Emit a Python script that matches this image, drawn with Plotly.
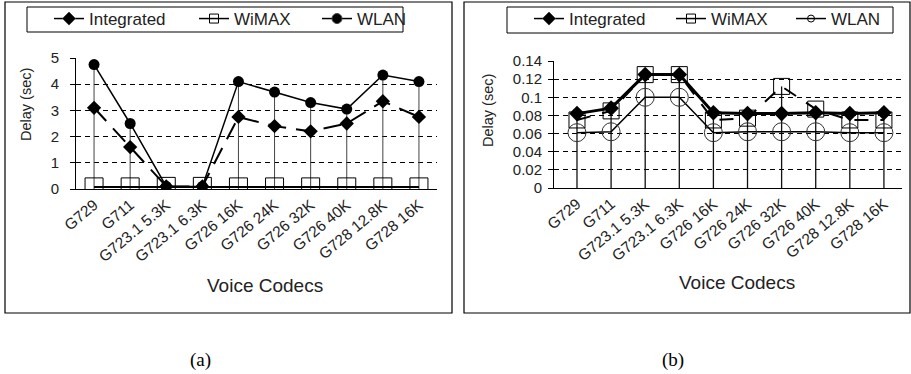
import plotly.graph_objects as go

W, H = 911, 374

categories = ["G729", "G711", "G723.1 5.3K", "G723.1 6.3K", "G726 16K",
              "G726 24K", "G726 32K", "G726 40K", "G728 12.8K", "G728 16K"]
series_names = ["Integrated", "WiMAX", "WLAN"]

# Panel (a)
a_integrated = [3.1, 1.6, 0.1, 0.1, 2.75, 2.4, 2.2, 2.5, 3.35, 2.75]
a_wimax = [0.08, 0.08, 0.1, 0.1, 0.08, 0.08, 0.08, 0.08, 0.08, 0.08]
a_wlan = [4.75, 2.5, 0.1, 0.1, 4.1, 3.7, 3.3, 3.05, 4.35, 4.1]

# Panel (b)
b_integrated = [0.082, 0.088, 0.125, 0.125, 0.083, 0.082, 0.082, 0.083, 0.082, 0.083]
b_wimax = [0.075, 0.085, 0.125, 0.125, 0.075, 0.077, 0.112, 0.087, 0.075, 0.075]
b_wlan = [0.061, 0.062, 0.1, 0.1, 0.061, 0.062, 0.062, 0.062, 0.061, 0.061]

y_ticks_a = [0, 1, 2, 3, 4, 5]
y_ticks_b = [0, 0.02, 0.04, 0.06, 0.08, 0.1, 0.12, 0.14]
y_ticklabels_b = ["0", "0.02", "0.04", "0.06", "0.08", "0.1", "0.12", "0.14"]

FONT = "Arial, 'Liberation Sans', sans-serif"
SERIF = "'Liberation Serif', 'Times New Roman', serif"


def fx(px):
    return px / W


def fy(py):
    return 1 - py / H


def droplines(series_list):
    xs, ys = [], []
    for i, c in enumerate(categories):
        top = max(s[i] for s in series_list)
        xs += [c, c, None]
        ys += [0, top, None]
    return xs, ys


fig = go.Figure()

# ---- panel (a) ----
dx, dy = droplines([a_integrated, a_wimax, a_wlan])
fig.add_trace(go.Scatter(x=dx, y=dy, mode="lines", line=dict(color="#444", width=1),
                         showlegend=False, hoverinfo="skip", xaxis="x", yaxis="y"))
fig.add_trace(go.Scatter(x=categories, y=a_wimax, mode="lines+markers", showlegend=False,
                         line=dict(color="black", width=2),
                         marker=dict(symbol="square-open", size=18, color="black", line=dict(width=1)),
                         xaxis="x", yaxis="y"))
fig.add_trace(go.Scatter(x=categories, y=a_integrated, mode="lines+markers", showlegend=False,
                         line=dict(color="black", width=2, dash="18px,10px"),
                         marker=dict(symbol="diamond", size=11, color="black"),
                         xaxis="x", yaxis="y"))
fig.add_trace(go.Scatter(x=categories, y=a_wlan, mode="lines+markers", showlegend=False,
                         line=dict(color="black", width=1.5),
                         marker=dict(symbol="circle", size=11, color="black"),
                         xaxis="x", yaxis="y"))

# ---- panel (b) ----
dx, dy = droplines([b_integrated, b_wimax, b_wlan])
fig.add_trace(go.Scatter(x=dx, y=dy, mode="lines", line=dict(color="#111", width=1.3),
                         showlegend=False, hoverinfo="skip", xaxis="x2", yaxis="y2"))
fig.add_trace(go.Scatter(x=categories, y=b_wlan, mode="lines+markers", showlegend=False,
                         line=dict(color="black", width=1.5),
                         marker=dict(symbol="circle-open", size=18, color="#333", line=dict(width=1)),
                         xaxis="x2", yaxis="y2"))
fig.add_trace(go.Scatter(x=categories, y=b_wimax, mode="lines+markers", showlegend=False,
                         line=dict(color="black", width=2, dash="14px,12px"),
                         marker=dict(symbol="square-open", size=16, color="black", line=dict(width=1)),
                         xaxis="x2", yaxis="y2"))
fig.add_trace(go.Scatter(x=categories, y=b_integrated, mode="lines+markers", showlegend=False,
                         line=dict(color="black", width=3),
                         marker=dict(symbol="diamond", size=12, color="black"),
                         xaxis="x2", yaxis="y2"))

# ---- legend entries: one legend per item so each can be placed like the original ----
legend_items = [
    # (name, symbol, size, legend id, xaxis, yaxis)
    ("Integrated", "diamond", 10, "legend", "x", "y"),
    ("WiMAX", "square-open", 9, "legend2", "x", "y"),
    ("WLAN", "circle", 10, "legend3", "x", "y"),
    ("Integrated", "diamond", 10, "legend4", "x2", "y2"),
    ("WiMAX", "square-open", 9, "legend5", "x2", "y2"),
    ("WLAN", "circle-open", 7, "legend6", "x2", "y2"),
]
for name, sym, msize, lg, xa, ya in legend_items:
    fig.add_trace(go.Scatter(x=[None], y=[None], mode="lines+markers", name=name,
                             line=dict(color="black", width=1.5),
                             marker=dict(symbol=sym, size=msize, color="black", line=dict(width=1)),
                             legend=lg, xaxis=xa, yaxis=ya, hoverinfo="skip"))

axis_common = dict(showline=True, linecolor="black", linewidth=1, ticks="",
                   tickfont=dict(family=FONT, size=15.5, color="#222"), showgrid=False,
                   zeroline=False, fixedrange=True, automargin=False)
yaxis_common = dict(showline=True, linecolor="black", linewidth=1, ticks="outside",
                    ticklen=5, tickcolor="black",
                    tickfont=dict(family=FONT, size=15, color="#222"), showgrid=True,
                    gridcolor="black", gridwidth=1, griddash="5px,4px", zeroline=False,
                    fixedrange=True, automargin=False)


def legend_at(text_x, text_y=19):
    return dict(orientation="h", bgcolor="rgba(0,0,0,0)", borderwidth=0,
                font=dict(family=FONT, size=17, color="#222"), xanchor="left",
                yanchor="middle", x=fx(text_x - 41), y=fy(text_y),
                itemclick=False, itemdoubleclick=False)


fig.update_layout(
    width=W, height=H, margin=dict(l=0, r=0, t=0, b=0, pad=0, autoexpand=False),
    paper_bgcolor="white", plot_bgcolor="white", showlegend=True,
    xaxis=dict(axis_common, domain=[fx(76), fx(437)], range=[-0.5, 9.5],
               type="category", categoryarray=categories, tickangle=-40, anchor="y"),
    yaxis=dict(yaxis_common, domain=[fy(189), fy(58)], range=[0, 5], tickvals=y_ticks_a,
               anchor="x", ticklabelstandoff=8),
    xaxis2=dict(axis_common, domain=[fx(554), fx(902)], range=[-0.674, 9.53],
                type="category", categoryarray=categories, tickangle=-40, anchor="y2"),
    yaxis2=dict(yaxis_common, domain=[fy(188), fy(61)], range=[0, 0.14],
                tickvals=y_ticks_b, ticktext=y_ticklabels_b, anchor="x2", ticklabelstandoff=3),
    legend=legend_at(90),
    legend2=legend_at(235),
    legend3=legend_at(358),
    legend4=legend_at(570),
    legend5=legend_at(712),
    legend6=legend_at(832),
    shapes=[
        dict(type="rect", xref="paper", yref="paper", x0=fx(5), x1=fx(452), y0=fy(313), y1=fy(2),
             line=dict(color="black", width=1.2), layer="below"),
        dict(type="rect", xref="paper", yref="paper", x0=fx(464), x1=fx(910), y0=fy(313), y1=fy(2),
             line=dict(color="black", width=1.2), layer="below"),
        dict(type="rect", xref="paper", yref="paper", x0=fx(27), x1=fx(403), y0=fy(32), y1=fy(7),
             line=dict(color="black", width=1), fillcolor="white", layer="below"),
        dict(type="rect", xref="paper", yref="paper", x0=fx(507), x1=fx(893), y0=fy(33), y1=fy(7),
             line=dict(color="black", width=1), fillcolor="white", layer="below"),
    ],
    annotations=[
        dict(text="Delay (sec)", x=fx(26), y=fy(105), textangle=-90,
             font=dict(family=FONT, size=14.5, color="#222")),
        dict(text="Delay (sec)", x=fx(488), y=fy(110), textangle=-90,
             font=dict(family=FONT, size=14.5, color="#222")),
        dict(text="Voice Codecs", x=fx(265), y=fy(285),
             font=dict(family=FONT, size=19, color="#222")),
        dict(text="Voice Codecs", x=fx(737), y=fy(282),
             font=dict(family=FONT, size=19, color="#222")),
        dict(text="(a)", x=fx(200), y=fy(360), font=dict(family=SERIF, size=19, color="black")),
        dict(text="(b)", x=fx(673), y=fy(360), font=dict(family=SERIF, size=19, color="black")),
    ],
)
fig.update_annotations(xref="paper", yref="paper", showarrow=False, xanchor="center",
                       yanchor="middle")

fig.write_html("out.html", config={"displayModeBar": False},
               post_script="document.body.style.margin='0';")
